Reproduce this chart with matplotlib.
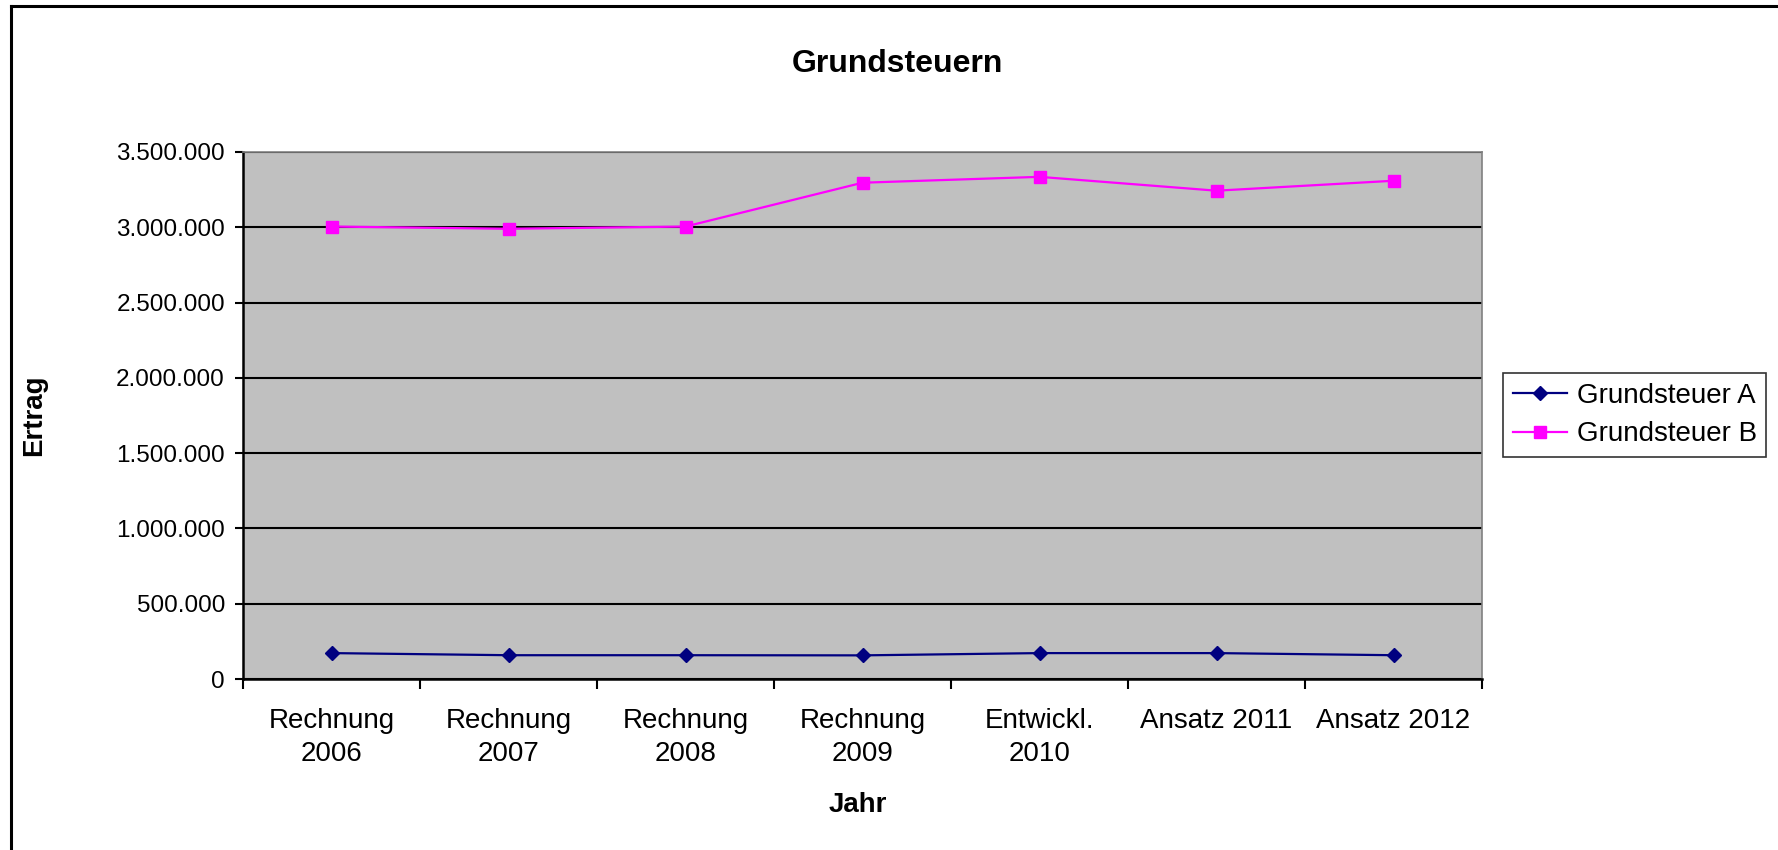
import matplotlib
matplotlib.use("Agg")
import matplotlib.pyplot as plt
from matplotlib.lines import Line2D
from matplotlib.ticker import FuncFormatter, MultipleLocator

plt.rcParams['font.family'] = ['Liberation Sans', 'DejaVu Sans']

# data
jahre = ["Rechnung\n2006", "Rechnung\n2007", "Rechnung\n2008", "Rechnung\n2009",
         "Entwickl.\n2010", "Ansatz 2011", "Ansatz 2012"]
grundsteuer_a = [172000, 158000, 158000, 157000, 172000, 172000, 158000]
grundsteuer_b = [3005000, 2990000, 3005000, 3296000, 3335000, 3243000, 3309000]

fig = plt.figure(figsize=(17.78, 8.5), dpi=100)
ax = fig.add_axes([243 / 1778, 1 - 679 / 850, (1482 - 243) / 1778, (679 - 152) / 850])
ax.set_facecolor('#C0C0C0')

x = list(range(len(jahre)))
ax.plot(x, grundsteuer_a, color='#000080', lw=1.6, marker='D', ms=7,
        label='Grundsteuer A', zorder=3)
ax.plot(x, grundsteuer_b, color='#FF00FF', lw=1.6, marker='s', ms=8,
        label='Grundsteuer B', zorder=3)

ax.set_ylim(0, 3500000)
ax.set_xlim(-0.5, len(jahre) - 0.5)
ax.yaxis.set_major_locator(MultipleLocator(500000))
ax.yaxis.set_major_formatter(FuncFormatter(lambda v, p: f"{int(v):,}".replace(',', '.')))
ax.grid(axis='y', color='black', lw=1.5, zorder=1)
ax.set_axisbelow(True)

ax.set_xticks(x)
ax.set_xticklabels(jahre, linespacing=1.35)
ax.set_xticks([i - 0.5 for i in range(len(jahre) + 1)], minor=True)
ax.tick_params(axis='x', which='major', length=0, pad=21, labelsize=20, colors='#000000')
ax.tick_params(axis='x', which='minor', length=7, width=1.5, direction='out')
ax.tick_params(axis='y', length=6, width=1.5, pad=7, labelsize=17.5)

for s in ['left', 'bottom']:
    ax.spines[s].set_color('black')
    ax.spines[s].set_linewidth(1.8)
for s in ['top', 'right']:
    ax.spines[s].set_color('#808080')
    ax.spines[s].set_linewidth(1.2)

ax.set_ylabel('Ertrag', fontsize=20, fontweight='bold')
ax.yaxis.set_label_coords(-0.158, 0.5)
ax.set_xlabel('Jahr', fontsize=20, fontweight='bold')
ax.xaxis.set_label_coords(0.496, -0.215)

fig.text(897 / 1778, 1 - 72 / 850, 'Grundsteuern', fontsize=23, fontweight='bold',
         ha='center', va='baseline')

leg = fig.legend(loc='center left', bbox_to_anchor=(1503 / 1778, 1 - 415 / 850),
                 fontsize=20, frameon=True, fancybox=False, handlelength=1.95,
                 borderpad=0.35, labelspacing=0.45, handletextpad=0.35, borderaxespad=0)
leg.get_frame().set_edgecolor('black')
leg.get_frame().set_linewidth(1.2)

# outer chart border (right and bottom edges are cut off in the original)
fig.add_artist(Line2D([11 / 1778, 11 / 1778], [0, 1 - 6 / 850], color='black', lw=2.2))
fig.add_artist(Line2D([11 / 1778, 1], [1 - 6 / 850, 1 - 6 / 850], color='black', lw=2.2))

fig.savefig('out.png', dpi=100, facecolor='white')
